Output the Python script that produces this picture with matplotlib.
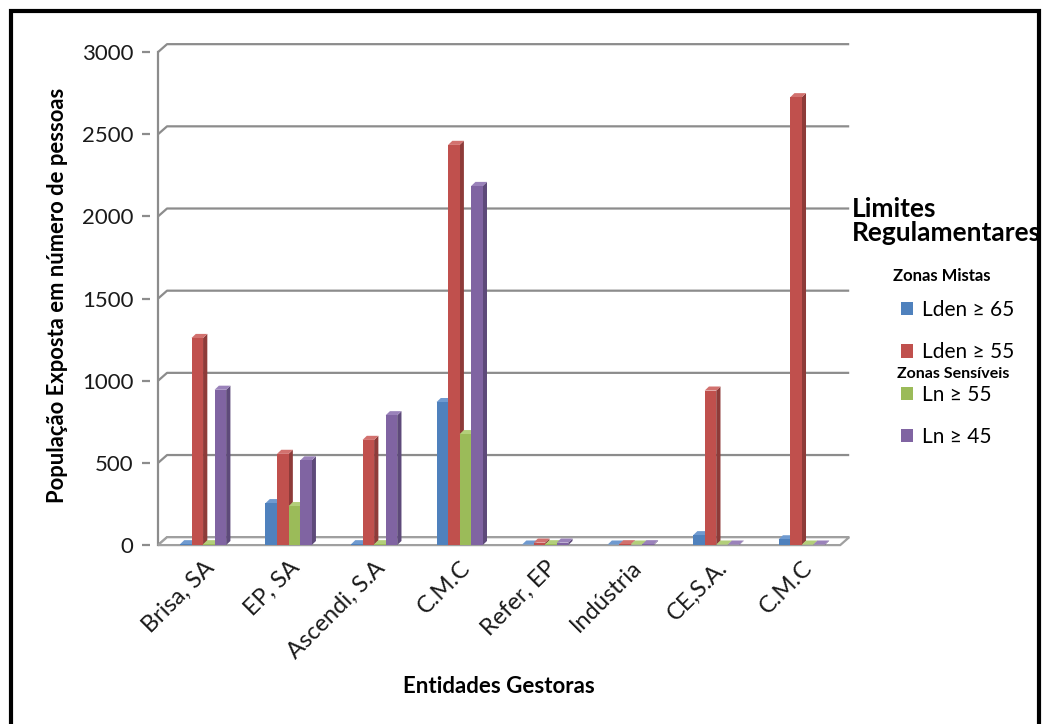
import matplotlib
matplotlib.use("Agg")
import matplotlib.pyplot as plt
from matplotlib.patches import Polygon, Patch, Rectangle
import numpy as np

plt.rcParams['font.family'] = ['Lato', 'DejaVu Sans']

# data
entidades = ['Brisa, SA', 'EP, SA', 'Ascendi, S.A', 'C.M.C', 'Refer, EP',
             'Indústria', 'CE,S.A.', 'C.M.C']
lden_65 = [5, 255, 5, 870, 3, 3, 60, 35]
lden_55 = [1260, 555, 640, 2435, 15, 5, 940, 2725]
ln_55 = [5, 237, 5, 675, 5, 3, 3, 3]
ln_45 = [945, 515, 790, 2185, 15, 5, 3, 3]
series_labels = ['Lden ≥ 65', 'Lden ≥ 55', 'Ln ≥ 55', 'Ln ≥ 45']
yticks = [0, 500, 1000, 1500, 2000, 2500, 3000]

colors = ['#4F81BD', '#C0504D', '#9BBB59', '#8064A2']
sides = ['#3A6595', '#8E3B39', '#76903F', '#5E4A7A']
tops = ['#6F9AD0', '#D2716E', '#B3CF7A', '#9A82BA']

fig = plt.figure(figsize=(10.44, 7.24), dpi=100)
ax = fig.add_axes([0.1437, 0.2403, 0.6734, 0.7037])
ax.set_xlim(-0.62, 7.6)
ax.set_ylim(-30, 3070)

x = np.arange(len(entidades))
w = 0.135
dx, dy = 0.05, 25      # bar depth
gdx, gdy = 0.105, 48   # wall depth
x_front = -0.526
x_end = 7.45

# back wall gridlines with the slanted bit from the front axis
for t in yticks:
    ax.plot([x_front, x_front + gdx, x_end + gdx], [t, t + gdy, t + gdy],
            color='#8C8C8C', lw=1.6, zorder=1, solid_capstyle='butt')
ax.plot([x_front, x_front], [0, 3000], color='#8C8C8C', lw=1.6, zorder=1)

# floor
floor = Polygon([(x_front, 0), (x_end, 0), (x_end + gdx, gdy), (x_front + gdx, gdy)],
                closed=True, facecolor='white', edgecolor='#A0A0A0', lw=1.6, zorder=2)
ax.add_patch(floor)

all_series = [lden_65, lden_55, ln_55, ln_45]
for gi in range(len(entidades)):
    for si, vals in enumerate(all_series):
        v = vals[gi]
        x0 = x[gi] + (si - 2) * w
        z = 3 + si
        ax.add_patch(Polygon([(x0 + w, 0), (x0 + w + dx, dy), (x0 + w + dx, v + dy), (x0 + w, v)],
                             closed=True, facecolor=sides[si], edgecolor='none', zorder=z))
        ax.add_patch(Polygon([(x0, v), (x0 + dx, v + dy), (x0 + w + dx, v + dy), (x0 + w, v)],
                             closed=True, facecolor=tops[si], edgecolor='none', zorder=z))
        ax.bar(x0, v, width=w, align='edge', color=colors[si], zorder=z)

for s in ax.spines.values():
    s.set_visible(False)
ax.set_yticks(yticks)
ax.set_yticklabels([str(t) for t in yticks], fontsize=16, color='#1a1a1a')
ax.tick_params(axis='y', length=6, width=1.6, color='#8C8C8C', pad=6)
ax.set_xticks(x)
ax.set_xticklabels(entidades, rotation=45, ha='right', rotation_mode='anchor',
                   fontsize=17, color='#1a1a1a')
ax.tick_params(axis='x', length=0, pad=5)

ax.set_ylabel('População Exposta em número de pessoas', fontsize=15.8,
              fontweight='bold', labelpad=10)
fig.text(0.478, 0.052, 'Entidades Gestoras', fontsize=16, fontweight='bold',
         ha='center', va='center')

# legend area
fig.text(0.816, 0.695, 'Limites\nRegulamentares', fontsize=19, fontweight='bold',
         ha='left', va='center', linespacing=1.0)
fig.text(0.855, 0.619, 'Zonas Mistas', fontsize=12, fontweight='bold', ha='left', va='center')
fig.text(0.859, 0.484, 'Zonas Sensíveis', fontsize=11.5, fontweight='bold', ha='left', va='center')
handles = [Patch(facecolor=c, edgecolor='none') for c in colors]
fig.legend(handles, series_labels, loc='upper left', bbox_to_anchor=(0.855, 0.597),
           frameon=False, fontsize=15, labelspacing=1.07, handlelength=0.6,
           handleheight=0.6, handletextpad=0.4, borderaxespad=0)

# outer frame
fig.patches.append(Rectangle((0.011, -0.05), 0.984, 1.035, transform=fig.transFigure,
                             fill=False, edgecolor='black', lw=3, zorder=10))

fig.savefig('out.png', dpi=100)
